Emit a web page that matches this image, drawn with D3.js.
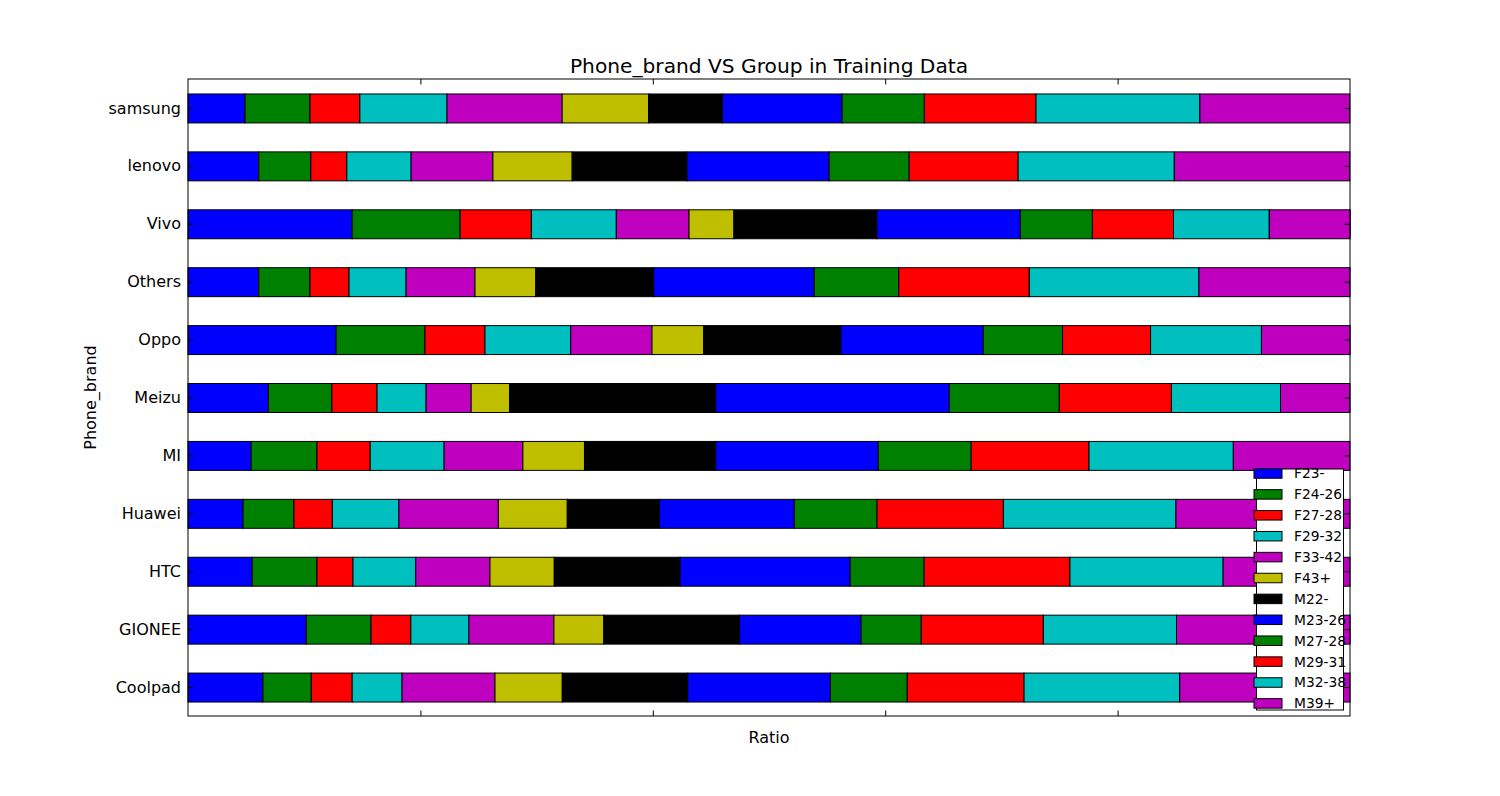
<!DOCTYPE html>
<html>
<head>
<meta charset="utf-8">
<script src="https://cdn.jsdelivr.net/npm/d3@7"></script>
<style>
  body { margin: 0; background: #fff; }
  svg { display: block; font-family: "DejaVu Sans", sans-serif; }
</style>
</head>
<body>
<svg id="chart" width="1500" height="796"></svg>
<script>
// brands, top of the chart first
const brands = ['samsung', 'lenovo', 'Vivo', 'Others', 'Oppo', 'Meizu', 'MI', 'Huawei', 'HTC', 'GIONEE', 'Coolpad'];
const groups = ['F23-', 'F24-26', 'F27-28', 'F29-32', 'F33-42', 'F43+', 'M22-', 'M23-26', 'M27-28', 'M29-31', 'M32-38', 'M39+'];
const colors = ['#0000ff', '#008000', '#ff0000', '#00bfbf', '#bf00bf', '#bfbf00', '#000000',
	'#0000ff', '#008000', '#ff0000', '#00bfbf', '#bf00bf'];
const xTicks = [0.2, 0.4, 0.6, 0.8];

// share of each group inside a brand
const samsung = [0.0491, 0.0559, 0.0429, 0.0750, 0.0991, 0.0744, 0.0636, 0.1029, 0.0708, 0.0961, 0.1410, 0.1290];
const lenovo = [0.0609, 0.0448, 0.0310, 0.0553, 0.0704, 0.0682, 0.0988, 0.1224, 0.0688, 0.0938, 0.1344, 0.1510];
const vivo = [0.1413, 0.0929, 0.0613, 0.0731, 0.0626, 0.0386, 0.1230, 0.1235, 0.0620, 0.0698, 0.0824, 0.0697];
const others = [0.0609, 0.0441, 0.0336, 0.0491, 0.0593, 0.0523, 0.1015, 0.1381, 0.0728, 0.1123, 0.1460, 0.1300];
const oppo = [0.1275, 0.0764, 0.0517, 0.0738, 0.0699, 0.0444, 0.1182, 0.1225, 0.0682, 0.0758, 0.0954, 0.0763];
const meizu = [0.0692, 0.0546, 0.0389, 0.0422, 0.0388, 0.0330, 0.1775, 0.2010, 0.0946, 0.0965, 0.0939, 0.0598];
const mi = [0.0544, 0.0566, 0.0458, 0.0636, 0.0678, 0.0530, 0.1130, 0.1398, 0.0800, 0.1014, 0.1242, 0.1003];
const huawei = [0.0474, 0.0438, 0.0330, 0.0573, 0.0856, 0.0593, 0.0793, 0.1161, 0.0712, 0.1087, 0.1485, 0.1497];
const htc = [0.0553, 0.0557, 0.0310, 0.0540, 0.0639, 0.0553, 0.1083, 0.1464, 0.0636, 0.1255, 0.1318, 0.1092];
const gionee = [0.1018, 0.0557, 0.0343, 0.0500, 0.0731, 0.0429, 0.1169, 0.1046, 0.0517, 0.1051, 0.1146, 0.1494];
const coolpad = [0.0645, 0.0416, 0.0352, 0.0429, 0.0800, 0.0579, 0.1080, 0.1227, 0.0662, 0.1005, 0.1340, 0.1465];

const ratios = [samsung, lenovo, vivo, others, oppo, meizu, mi, huawei, htc, gionee, coolpad];

const margin = { top: 79, right: 150, bottom: 80, left: 188 };
const W = 1500, H = 796;
const svg = d3.select('#chart');

const x = d3.scaleLinear().domain([0, 1]).range([margin.left, W - margin.right]);
const y = d3.scaleBand().domain(brands).range([margin.top + 0.5, H - margin.bottom + 0.5])
	.paddingInner(0.5).paddingOuter(0.25);

// table for d3.stack
const table = brands.map((b, i) => {
	const row = { brand: b };
	groups.forEach((g, j) => { row[g] = ratios[i][j]; });
	return row;
});
const stacked = d3.stack().keys(groups)(table);

svg.append('g')
	.selectAll('g')
	.data(stacked)
	.join('g')
	.attr('fill', (s, i) => colors[i])
	.selectAll('rect')
	.data((s) => s)
	.join('rect')
	.attr('x', (d) => x(d[0]))
	.attr('width', (d) => x(d[1]) - x(d[0]))
	.attr('y', (d) => y(d.data.brand))
	.attr('height', y.bandwidth())
	.attr('stroke', '#000')
	.attr('stroke-width', 1);

// axes, ticks pointing inward like the classic matplotlib style
const tick = 5.5;
const noLabel = () => '';
svg.append('g')
	.attr('transform', `translate(${margin.left},0)`)
	.call(d3.axisLeft(y).tickSizeInner(-tick).tickSizeOuter(0).tickPadding(7))
	.call((g) => g.select('.domain').remove())
	.call((g) => g.selectAll('text').attr('font-size', 16).attr('fill', '#000').attr('font-family', '"DejaVu Sans", sans-serif'));
svg.append('g')
	.attr('transform', `translate(${W - margin.right},0)`)
	.call(d3.axisRight(y).tickSizeInner(-tick).tickSizeOuter(0).tickFormat(noLabel))
	.call((g) => g.select('.domain').remove());
svg.append('g')
	.attr('transform', `translate(0,${margin.top})`)
	.call(d3.axisTop(x).tickValues(xTicks).tickSizeInner(-tick).tickSizeOuter(0).tickFormat(noLabel))
	.call((g) => g.select('.domain').remove());
svg.append('g')
	.attr('transform', `translate(0,${H - margin.bottom})`)
	.call(d3.axisBottom(x).tickValues(xTicks).tickSizeInner(-tick).tickSizeOuter(0).tickFormat(noLabel))
	.call((g) => g.select('.domain').remove());

svg.append('rect')
	.attr('x', margin.left)
	.attr('y', margin.top)
	.attr('width', W - margin.left - margin.right)
	.attr('height', H - margin.top - margin.bottom)
	.attr('fill', 'none')
	.attr('stroke', '#000')
	.attr('stroke-width', 1);

// titles
svg.append('text')
	.attr('x', (x(0) + x(1)) / 2)
	.attr('y', 73)
	.attr('text-anchor', 'middle')
	.attr('font-size', 20.2)
	.text('Phone_brand VS Group in Training Data');
svg.append('text')
	.attr('x', (x(0) + x(1)) / 2)
	.attr('y', 743)
	.attr('text-anchor', 'middle')
	.attr('font-size', 16)
	.text('Ratio');
svg.append('text')
	.attr('transform', `translate(96,${(margin.top + H - margin.bottom) / 2}) rotate(-90)`)
	.attr('text-anchor', 'middle')
	.attr('font-size', 16)
	.text('Phone_brand');

// legend
const legend = svg.append('g');
legend.append('rect')
	.attr('x', 1256.5)
	.attr('y', 469)
	.attr('width', 87)
	.attr('height', 241)
	.attr('fill', '#fff')
	.attr('stroke', '#000')
	.attr('stroke-width', 1);
const item = legend.selectAll('g.item')
	.data(groups)
	.join('g')
	.attr('class', 'item')
	.attr('transform', (g, i) => `translate(1254,${473.5 + i * 20.9})`);
item.append('rect')
	.attr('x', 0)
	.attr('y', -4.75)
	.attr('width', 28)
	.attr('height', 9.5)
	.attr('fill', (g, i) => colors[i])
	.attr('stroke', '#000')
	.attr('stroke-width', 1);
item.append('text')
	.attr('x', 40)
	.attr('dy', '0.36em')
	.attr('font-size', 13.8)
	.text((g) => g);
</script>
</body>
</html>
